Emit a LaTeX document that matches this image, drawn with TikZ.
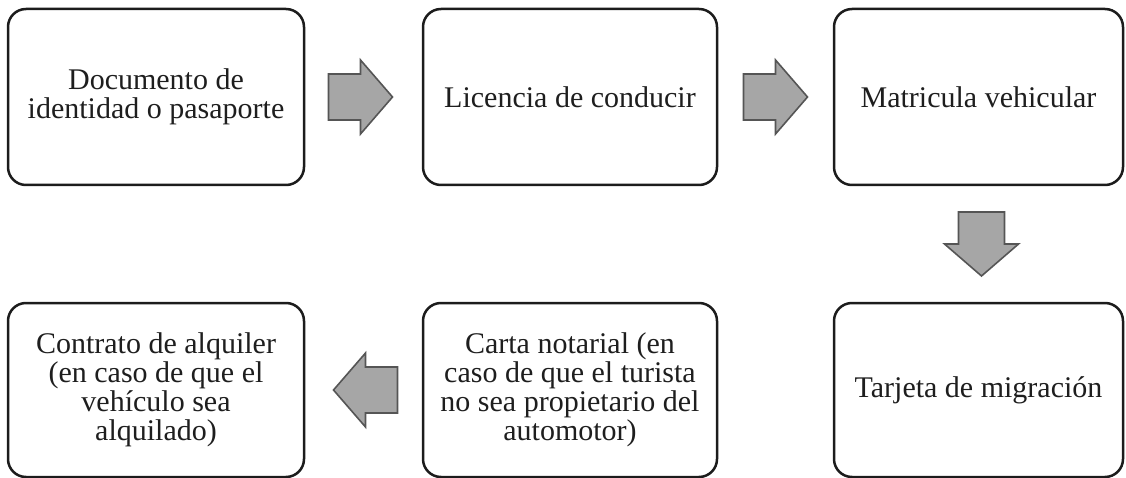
\documentclass[tikz,border=0pt]{standalone}
\usepackage{fontspec}
\setmainfont{Liberation Serif}
\usetikzlibrary{calc}
\definecolor{boxline}{HTML}{1C1C1C}
\definecolor{txt}{HTML}{1E1E1E}
\definecolor{arrfill}{HTML}{A6A6A6}
\definecolor{arrline}{HTML}{555555}
\tikzset{
  docbox/.style={draw=boxline, line width=2.5pt, rounded corners=18pt,
    align=center, text=txt, inner sep=0pt,
    font=\fontsize{30}{29}\selectfont},
  blockarrow/.pic={
    \draw[fill=arrfill, draw=arrline, line width=1.6pt, line join=miter]
      (-32,-23) -- (0,-23) -- (0,-37) -- (32,0) -- (0,37) -- (0,23) -- (-32,23) -- cycle;
  }
}
\begin{document}
\begin{tikzpicture}[x=1pt, y=-1pt]
\useasboundingbox (0,0) rectangle (1126,478);
\node[docbox, minimum width=296pt, minimum height=176pt] (b1) at (156,97)
  {Documento de\\identidad o pasaporte};
\node[docbox, minimum width=294pt, minimum height=176pt] (b2) at (570,97)
  {Licencia de conducir};
\node[docbox, minimum width=289pt, minimum height=176pt] (b3) at (978.5,97)
  {Matricula vehicular};
\node[docbox, minimum width=289pt, minimum height=174pt] (b4) at (978.5,390)
  {Tarjeta de migración};
\node[docbox, minimum width=294pt, minimum height=174pt] (b5) at (570,390)
  {Carta notarial (en\\caso de que el turista\\no sea propietario del\\automotor)};
\node[docbox, minimum width=296pt, minimum height=174pt] (b6) at (156,390)
  {Contrato de alquiler\\(en caso de que el\\vehículo sea\\alquilado)};
\coordinate (m12) at ($(b1.east)!0.5!(b2.west)+(-3,0)$);
\coordinate (m23) at ($(b2.east)!0.5!(b3.west)$);
\coordinate (m34) at ($(b3.south)!0.5!(b4.north)+(3,0)$);
\coordinate (m45) at ($(b4.west)!0.5!(b5.east)$);
\coordinate (m56) at ($(b5.west)!0.5!(b6.east)+(2,0)$);
\pic at (m12) {blockarrow};
\pic at (m23) {blockarrow};
\pic[rotate=-90] at (m34) {blockarrow};
\pic[rotate=180] at (m56) {blockarrow};
\end{tikzpicture}
\end{document}
